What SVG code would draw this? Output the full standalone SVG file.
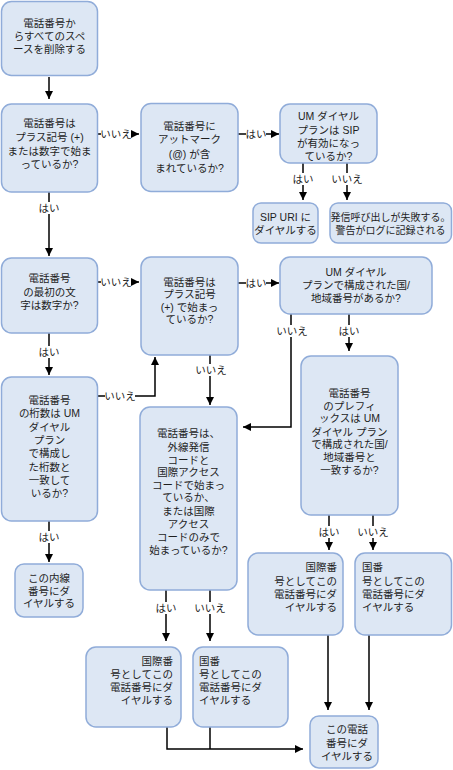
<svg xmlns="http://www.w3.org/2000/svg" width="453" height="770" viewBox="0 0 453 770">
<defs>
<marker id="a" markerUnits="userSpaceOnUse" markerWidth="9" markerHeight="9" refX="8" refY="4" orient="auto">
<path d="M0,0 L8,4 L0,8 z" fill="#000"/>
</marker>
<style>
.n rect{fill:#dde7f4;stroke:#90acd9;stroke-width:1.5}
text{font-family:"Liberation Sans","Noto Sans CJK JP",sans-serif;font-size:10.5px;fill:#1e1e1e}
.m{text-anchor:middle}
.e{text-anchor:end}
.c path{stroke:#000;stroke-width:1.5;fill:none}
.c path.ar{marker-end:url(#a)}
.lb rect{fill:#fff}
</style>
</defs>
<rect width="453" height="770" fill="#fff"/>
<g class="c">
<path class="ar" d="M49,77 V99"/>
<path class="ar" d="M98,134 H139"/>
<path class="ar" d="M238,134 H279"/>
<path class="ar" d="M303,163 V200"/>
<path class="ar" d="M347,163 V200"/>
<path class="ar" d="M49,192 V256"/>
<path class="ar" d="M98,282 H139"/>
<path class="ar" d="M238,283 H279"/>
<path class="ar" d="M49,333 V375"/>
<path class="ar" d="M98,396 H155 V357"/>
<path class="ar" d="M210,355 V405"/>
<path class="ar" d="M291,314 V427 H243"/>
<path class="ar" d="M349,314 V351"/>
<path class="ar" d="M49,521 V562"/>
<path class="ar" d="M329,515 V550"/>
<path class="ar" d="M373,515 V550"/>
<path class="ar" d="M166,590 V641"/>
<path class="ar" d="M210,590 V641"/>
<path class="ar" d="M328,635 V710"/>
<path class="ar" d="M369,635 V710"/>
<path class="ar" d="M167,727 V749 H303"/>
<path d="M210,727 V749"/>
<g class="lb">
<rect x="101" y="128" width="30" height="12"/><text class="m" x="116" y="138">いいえ</text>
<rect x="246" y="128" width="20" height="12"/><text class="m" x="256" y="138">はい</text>
<rect x="293" y="173" width="20" height="12"/><text class="m" x="303" y="183">はい</text>
<rect x="332" y="173" width="30" height="12"/><text class="m" x="347" y="183">いいえ</text>
<rect x="39" y="202" width="20" height="12"/><text class="m" x="49" y="212">はい</text>
<rect x="101" y="276" width="30" height="12"/><text class="m" x="116" y="286">いいえ</text>
<rect x="246" y="277" width="20" height="12"/><text class="m" x="256" y="287">はい</text>
<rect x="39" y="346" width="20" height="12"/><text class="m" x="49" y="356">はい</text>
<rect x="105" y="390" width="30" height="12"/><text class="m" x="120" y="400">いいえ</text>
<rect x="196" y="364" width="30" height="12"/><text class="m" x="211" y="374">いいえ</text>
<rect x="277" y="325" width="30" height="12"/><text class="m" x="292" y="335">いいえ</text>
<rect x="339" y="325" width="20" height="12"/><text class="m" x="349" y="335">はい</text>
<rect x="39" y="531" width="20" height="12"/><text class="m" x="49" y="541">はい</text>
<rect x="319" y="526" width="20" height="12"/><text class="m" x="329" y="536">はい</text>
<rect x="358" y="526" width="30" height="12"/><text class="m" x="373" y="536">いいえ</text>
<rect x="156" y="602" width="20" height="12"/><text class="m" x="166" y="612">はい</text>
<rect x="195" y="602" width="30" height="12"/><text class="m" x="210" y="612">いいえ</text>
</g>
</g>
<g id="n1" class="n"><rect x="1.5" y="1.5" width="96" height="74" rx="10"/>
<text class="m"><tspan x="49.5" y="27">電話番号か</tspan><tspan x="49.5" y="40">らすべてのスペ</tspan><tspan x="49.5" y="53">ースを削除する</tspan></text></g>
<g id="n2" class="n"><rect x="1.5" y="104" width="96" height="88" rx="10"/>
<text class="m"><tspan x="49.5" y="127">電話番号は</tspan><tspan x="49.5" y="141">プラス記号 (+)</tspan><tspan x="49.5" y="154.5">または数字で始ま</tspan><tspan x="49.5" y="168">っているか?</tspan></text></g>
<g id="n3" class="n"><rect x="141" y="103.5" width="97" height="88" rx="10"/>
<text class="m"><tspan x="189.5" y="129.5">電話番号に</tspan><tspan x="189.5" y="143">アットマーク</tspan><tspan x="189.5" y="157.5">(@) が含</tspan><tspan x="189.5" y="171.5">まれているか?</tspan></text></g>
<g id="n4" class="n"><rect x="280" y="104" width="97" height="59" rx="10"/>
<text class="m"><tspan x="328.5" y="120">UM ダイヤル</tspan><tspan x="328.5" y="133.5">プランは SIP</tspan><tspan x="328.5" y="146.5">が有効になっ</tspan><tspan x="328.5" y="159.5">ているか?</tspan></text></g>
<g id="n5" class="n"><rect x="253" y="203" width="65" height="40" rx="8"/>
<text class="m"><tspan x="285.5" y="221">SIP URI に</tspan><tspan x="285.5" y="234">ダイヤルする</tspan></text></g>
<g id="n6" class="n"><rect x="330" y="203" width="121.5" height="40" rx="8"/>
<text class="m" style="font-size:10px"><tspan x="390.5" y="221">発信呼び出しが失敗する。</tspan><tspan x="390.5" y="234">警告がログに記録される</tspan></text></g>
<g id="n7" class="n"><rect x="1.5" y="258" width="96" height="75" rx="10"/>
<text class="m"><tspan x="49.5" y="282">電話番号</tspan><tspan x="49.5" y="295.5">の最初の文</tspan><tspan x="49.5" y="308.5">字は数字か?</tspan></text></g>
<g id="n8" class="n"><rect x="141" y="257" width="97" height="98" rx="10"/>
<text class="m"><tspan x="189.5" y="285.5">電話番号は</tspan><tspan x="189.5" y="298">プラス記号</tspan><tspan x="189.5" y="310.5">(+) で始まっ</tspan><tspan x="189.5" y="323">ているか?</tspan></text></g>
<g id="n9" class="n"><rect x="280" y="257" width="152" height="57" rx="10"/>
<text class="m"><tspan x="356" y="276">UM ダイヤル</tspan><tspan x="356" y="289">プランで構成された国/</tspan><tspan x="356" y="302">地域番号があるか?</tspan></text></g>
<g id="n10" class="n"><rect x="1.5" y="377" width="96" height="144" rx="10"/>
<text class="m"><tspan x="49.5" y="404">電話番号</tspan><tspan x="49.5" y="417">の桁数は UM</tspan><tspan x="49.5" y="431">ダイヤル</tspan><tspan x="49.5" y="444">プラン</tspan><tspan x="49.5" y="457">で構成し</tspan><tspan x="49.5" y="471">た桁数と</tspan><tspan x="49.5" y="484">一致して</tspan><tspan x="49.5" y="497">いるか?</tspan></text></g>
<g id="n11" class="n"><rect x="301" y="356" width="97" height="159" rx="10"/>
<text class="m"><tspan x="349.5" y="397">電話番号</tspan><tspan x="349.5" y="409.5">のプレフィ</tspan><tspan x="349.5" y="422">ックスは UM</tspan><tspan x="349.5" y="435.5">ダイヤル プラン</tspan><tspan x="349.5" y="448">で構成された国/</tspan><tspan x="349.5" y="461">地域番号と</tspan><tspan x="349.5" y="474">一致するか?</tspan></text></g>
<g id="n12" class="n"><rect x="140" y="407" width="97" height="183" rx="10"/>
<text class="m"><tspan x="188.5" y="437">電話番号は、</tspan><tspan x="188.5" y="450.5">外線発信</tspan><tspan x="188.5" y="463.5">コードと</tspan><tspan x="188.5" y="476">国際アクセス</tspan><tspan x="188.5" y="488.5">コードで始まっ</tspan><tspan x="188.5" y="501">ているか、</tspan><tspan x="188.5" y="514.5">または国際</tspan><tspan x="188.5" y="527.5">アクセス</tspan><tspan x="188.5" y="540.5">コードのみで</tspan><tspan x="188.5" y="554">始まっているか?</tspan></text></g>
<g id="n13" class="n"><rect x="15" y="564" width="68" height="53" rx="9"/>
<text class="m"><tspan x="49" y="582">この内線</tspan><tspan x="49" y="594.5">番号にダ</tspan><tspan x="49" y="607">イヤルする</tspan></text></g>
<g id="n14" class="n"><rect x="248" y="553" width="95" height="82" rx="10"/>
<text class="e"><tspan x="337" y="571">国際番</tspan><tspan x="337" y="584.5">号としてこの</tspan><tspan x="337" y="598">電話番号にダ</tspan><tspan x="337" y="611">イヤルする</tspan></text></g>
<g id="n15" class="n"><rect x="355" y="553" width="96.5" height="82" rx="10"/>
<text><tspan x="362" y="571">国番</tspan><tspan x="362" y="584.5">号としてこの</tspan><tspan x="362" y="598">電話番号にダ</tspan><tspan x="362" y="611">イヤルする</tspan></text></g>
<g id="n16" class="n"><rect x="86" y="647" width="95" height="80" rx="10"/>
<text class="e"><tspan x="173" y="665">国際番</tspan><tspan x="173" y="678">号としてこの</tspan><tspan x="173" y="691">電話番号にダ</tspan><tspan x="173" y="704">イヤルする</tspan></text></g>
<g id="n17" class="n"><rect x="193" y="647" width="95" height="80" rx="10"/>
<text><tspan x="199" y="665">国番</tspan><tspan x="199" y="678">号としてこの</tspan><tspan x="199" y="691">電話番号にダ</tspan><tspan x="199" y="704">イヤルする</tspan></text></g>
<g id="n18" class="n"><rect x="310" y="716" width="68" height="52" rx="9"/>
<text class="m"><tspan x="347" y="733">この電話</tspan><tspan x="347" y="746.5">番号にダ</tspan><tspan x="347" y="760">イヤルする</tspan></text></g>
</svg>
